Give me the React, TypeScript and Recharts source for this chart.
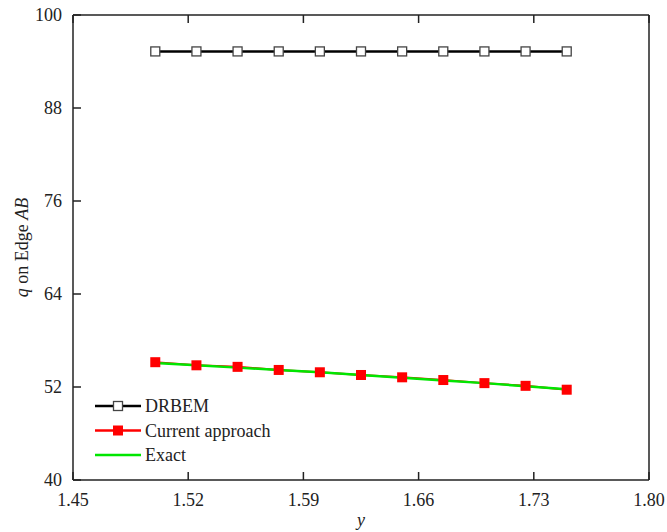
import React from "react";
import {
  LineChart,
  Line,
  XAxis,
  YAxis,
} from "recharts";

// y positions along edge AB
const yValues = [1.5, 1.525, 1.55, 1.575, 1.6, 1.625, 1.65, 1.675, 1.7, 1.725, 1.75];
const drbem = [95.3, 95.3, 95.3, 95.3, 95.3, 95.3, 95.3, 95.3, 95.3, 95.3, 95.3];
const current = [55.2, 54.8, 54.6, 54.2, 53.9, 53.55, 53.25, 52.9, 52.5, 52.15, 51.65];
const exact = [55.1, 54.8, 54.5, 54.2, 53.9, 53.55, 53.2, 52.85, 52.5, 52.1, 51.7];

const xTicks = [1.45, 1.52, 1.59, 1.66, 1.73, 1.8];
const yTicks = [40, 52, 64, 76, 88, 100];

const FONT = "'Liberation Serif', 'Times New Roman', serif";
const AXIS = "#222";
const TICK_LEN = 8;

const data = yValues.map((y, i) => ({
  y,
  drbem: drbem[i],
  current: current[i],
  exact: exact[i],
}));

const OpenSquare = (props: any) => {
  const { cx, cy } = props;
  if (cx == null || cy == null) return null;
  return (
    <rect x={cx - 4.5} y={cy - 4.5} width={9} height={9} fill="#fff" stroke="#444" strokeWidth={1.3} />
  );
};

const RedSquare = (props: any) => {
  const { cx, cy } = props;
  if (cx == null || cy == null) return null;
  return <rect x={cx - 5} y={cy - 5} width={10} height={10} fill="#ff0000" />;
};

// inward ticks, drawn by hand so they point into the plot
const BottomTick = (props: any) => {
  const { x, y, payload } = props;
  return (
    <g>
      <line x1={x} x2={x} y1={y} y2={y - TICK_LEN} stroke={AXIS} strokeWidth={1.5} />
      <text x={x} y={y + 26} textAnchor="middle" fontFamily={FONT} fontSize={18} fill="#222">
        {Number(payload.value).toFixed(2)}
      </text>
    </g>
  );
};
const TopTick = (props: any) => {
  const { x, y } = props;
  return <line x1={x} x2={x} y1={y} y2={y + TICK_LEN} stroke={AXIS} strokeWidth={1.5} />;
};
const LeftTick = (props: any) => {
  const { x, y, payload } = props;
  return (
    <g>
      <line x1={x} x2={x + TICK_LEN} y1={y} y2={y} stroke={AXIS} strokeWidth={1.5} />
      <text x={x - 11} y={y + 6} textAnchor="end" fontFamily={FONT} fontSize={18} fill="#222">
        {payload.value}
      </text>
    </g>
  );
};
const RightTick = (props: any) => {
  const { x, y } = props;
  return <line x1={x} x2={x - TICK_LEN} y1={y} y2={y} stroke={AXIS} strokeWidth={1.5} />;
};

const legendItems = [
  { name: "DRBEM", color: "#000", marker: "open" },
  { name: "Current approach", color: "#ff0000", marker: "filled" },
  { name: "Exact", color: "#00e600", marker: "none" },
];

function LegendBox() {
  return (
    <svg width={220} height={80} style={{ display: "block" }}>
      {legendItems.map((it, i) => {
        const cy = 11 + i * 24.5;
        return (
          <g key={it.name}>
            <line x1={3} x2={49} y1={cy} y2={cy} stroke={it.color} strokeWidth={2.5} />
            {it.marker === "open" && (
              <rect x={21.5} y={cy - 4.5} width={9} height={9} fill="#fff" stroke="#444" strokeWidth={1.3} />
            )}
            {it.marker === "filled" && (
              <rect x={21} y={cy - 5} width={10} height={10} fill="#ff0000" />
            )}
            <text x={53} y={cy + 6} fontFamily={FONT} fontSize={18} fill="#222">
              {it.name}
            </text>
          </g>
        );
      })}
    </svg>
  );
}

const YLabel = (props: any) => {
  const { viewBox } = props;
  const cx = 22;
  const cy = viewBox.y + viewBox.height / 2;
  return (
    <text
      x={cx}
      y={cy}
      transform={`rotate(-90, ${cx}, ${cy})`}
      textAnchor="middle"
      dominantBaseline="central"
      fontFamily={FONT}
      fontSize={18}
      fill="#222"
    >
      <tspan fontStyle="italic">q</tspan>
      <tspan> on Edge </tspan>
      <tspan fontStyle="italic">AB</tspan>
    </text>
  );
};

export default function App() {
  return (
    <div style={{ position: "absolute", left: 0, top: 0, width: 667, height: 532 }}>
      <LineChart
        width={667}
        height={532}
        data={data}
        margin={{ top: 14, right: 17, bottom: 0, left: 0 }}
      >
        <XAxis
          xAxisId="bottom"
          dataKey="y"
          type="number"
          domain={[1.45, 1.8]}
          ticks={xTicks}
          allowDataOverflow
          height={52}
          tickSize={0}
          tickMargin={0}
          tickLine={false}
          tick={<BottomTick />}
          stroke={AXIS}
          strokeWidth={1.5}
          label={{ value: "y", position: "insideBottom", offset: 6, fontFamily: FONT, fontSize: 18, fontStyle: "italic", fill: "#222" }}
        />
        <XAxis
          xAxisId="top"
          orientation="top"
          dataKey="y"
          type="number"
          domain={[1.45, 1.8]}
          ticks={xTicks}
          height={1}
          tickSize={0}
          tickMargin={0}
          tickLine={false}
          tick={<TopTick />}
          stroke={AXIS}
          strokeWidth={1.5}
        />
        <YAxis
          yAxisId="left"
          type="number"
          domain={[40, 100]}
          ticks={yTicks}
          width={73}
          tickSize={0}
          tickMargin={0}
          tickLine={false}
          tick={<LeftTick />}
          stroke={AXIS}
          strokeWidth={1.5}
          label={<YLabel />}
        />
        <YAxis
          yAxisId="right"
          orientation="right"
          type="number"
          domain={[40, 100]}
          ticks={yTicks}
          width={1}
          tickSize={0}
          tickMargin={0}
          tickLine={false}
          tick={<RightTick />}
          stroke={AXIS}
          strokeWidth={1.5}
        />
        <Line
          xAxisId="bottom"
          yAxisId="left"
          dataKey="drbem"
          name="DRBEM"
          stroke="#000"
          strokeWidth={2.5}
          dot={<OpenSquare />}
          isAnimationActive={false}
        />
        <Line
          xAxisId="bottom"
          yAxisId="left"
          dataKey="current"
          name="Current approach"
          stroke="#ff0000"
          strokeWidth={2}
          dot={<RedSquare />}
          isAnimationActive={false}
        />
        <Line
          xAxisId="bottom"
          yAxisId="left"
          dataKey="exact"
          name="Exact"
          stroke="#00e600"
          strokeWidth={2.5}
          dot={false}
          isAnimationActive={false}
        />
      </LineChart>
      <div style={{ position: "absolute", left: 92, top: 395 }}>
        <LegendBox />
      </div>
    </div>
  );
}
